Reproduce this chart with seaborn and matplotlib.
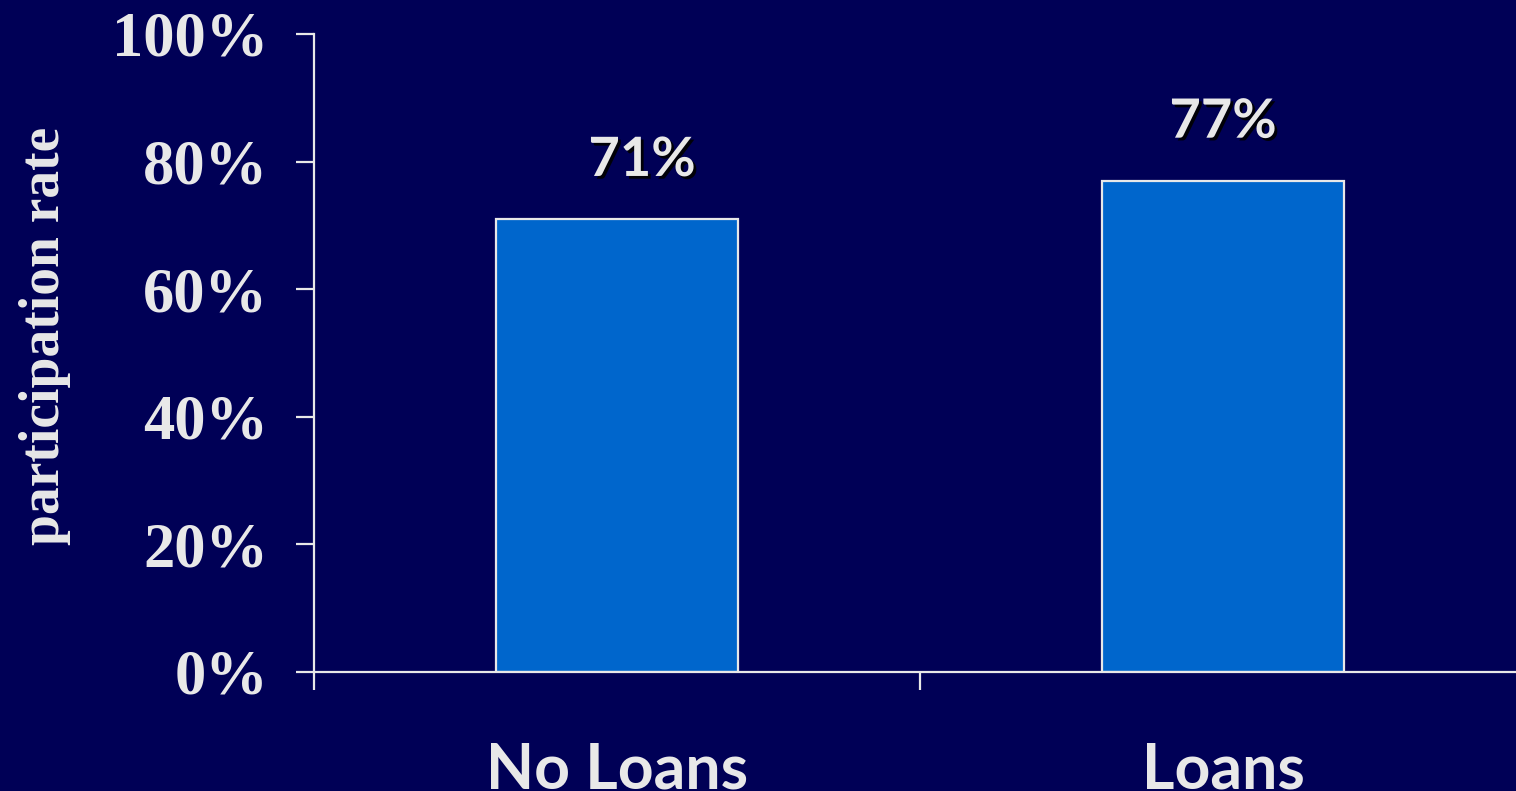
import matplotlib
matplotlib.use("Agg")
import matplotlib.pyplot as plt
import matplotlib.patheffects as pe
import seaborn as sns
import pandas as pd

# Plan participation by whether loans are offered
categories = ["No Loans", "Loans"]
participation = [71, 77]
y_ticks = [0, 20, 40, 60, 80, 100]
y_tick_labels = ["0%", "20%", "40%", "60%", "80%", "100%"]
value_labels = ["71%", "77%"]

BG = "#000056"
BAR = "#0066CC"
FG = "#E8E8E8"

sns.set_theme(style="white")
plt.rcParams["font.family"] = ["Liberation Serif", "DejaVu Serif"]

df = pd.DataFrame({"group": categories, "rate": participation})

fig = plt.figure(figsize=(15.16, 7.91), dpi=100, facecolor=BG)
ax = fig.add_axes([314 / 1516, 119 / 791, 1212 / 1516, 638 / 791])
ax.set_facecolor(BG)

sns.barplot(data=df, x="group", y="rate", hue="group", palette=[BAR, BAR],
            width=0.4, saturation=1, edgecolor=FG, linewidth=1.6,
            legend=False, ax=ax)

ax.set_xlim(-0.5, 1.5)
ax.set_ylim(0, 100)

# y axis: serif percentages with outward ticks
ax.set_yticks(y_ticks)
ax.set_yticklabels(y_tick_labels, fontsize=45, fontweight="bold",
                   color=FG, family=["Liberation Serif", "DejaVu Serif"])
ax.tick_params(axis="y", which="major", left=True, direction="out",
               length=13, width=1.6, color=FG, pad=20)

# x axis: boundary ticks between groups, labels centred under bars
ax.set_xticks([0, 1])
ax.set_xticklabels(categories, fontsize=45, fontweight="bold", color=FG,
                   family=["Lato", "DejaVu Sans"])
ax.tick_params(axis="x", which="major", bottom=True, length=0, pad=50)
ax.set_xticks([-0.5, 0.5, 1.5], minor=True)
ax.tick_params(axis="x", which="minor", bottom=True, direction="out",
               length=13, width=1.6, color=FG)

ax.set_xlabel("")
ax.set_ylabel("participation rate", fontsize=40, fontweight="bold", color=FG,
              family=["Liberation Serif", "DejaVu Serif"])
ax.yaxis.set_label_coords(-243 / 1212, 0.527)

for side in ("top", "right"):
    ax.spines[side].set_visible(False)
for side in ("left", "bottom"):
    ax.spines[side].set_color(FG)
    ax.spines[side].set_linewidth(1.6)

# value labels above bars with a drop shadow
shadow = [pe.withSimplePatchShadow(offset=(2, -2), shadow_rgbFace="black",
                                   alpha=0.9)]
label_dx = [18, 0]
for i, (v, txt) in enumerate(zip(participation, value_labels)):
    ax.annotate(txt, xy=(i, v), xytext=(label_dx[i], 31),
                textcoords="offset points", ha="center", va="baseline",
                fontsize=39, fontweight="bold", color=FG,
                family=["Lato", "DejaVu Sans"], path_effects=shadow)

fig.savefig("out.png", dpi=100, facecolor=BG)
